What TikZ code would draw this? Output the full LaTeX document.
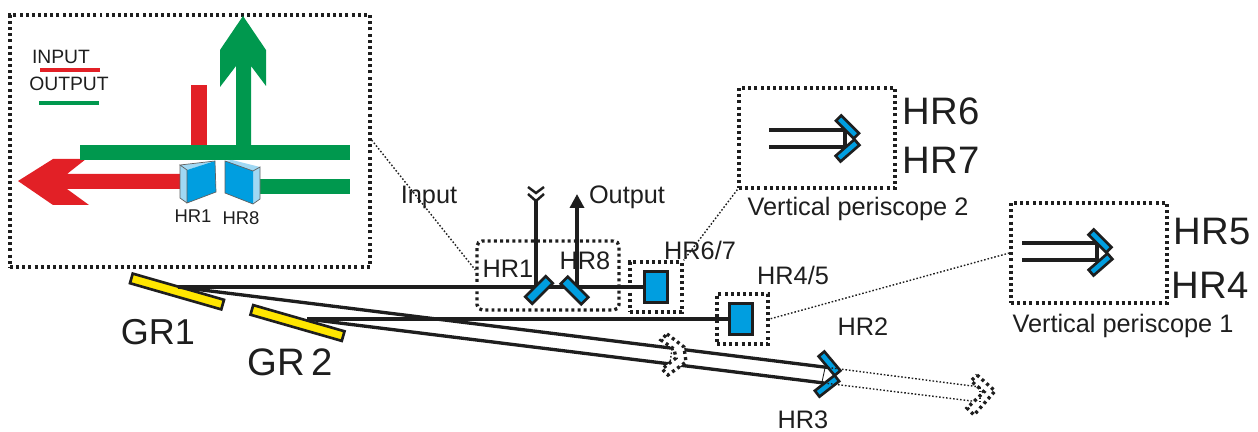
\documentclass[tikz,border=0pt]{standalone}
\usepackage{fontspec}
\setmainfont{Liberation Sans}
\usetikzlibrary{arrows.meta,positioning,calc}
\definecolor{azul}{RGB}{0,158,224}
\definecolor{celeste}{RGB}{160,216,243}
\definecolor{verde}{RGB}{0,152,78}
\definecolor{rojo}{RGB}{226,32,38}
\definecolor{amarillo}{RGB}{255,230,0}
\definecolor{negro}{RGB}{30,30,30}
\tikzset{
  caja/.style={draw=negro, line width=1.9pt, dash pattern=on 1.7pt off 1.8pt, inner sep=0pt},
  rcaja/.style={caja, rounded corners=3pt},
  esp/.style={draw=negro, fill=azul, line width=1.5pt, inner sep=0pt, minimum width=0.58cm, minimum height=0.2cm},
  espp/.style={esp, minimum width=0.5cm, minimum height=0.15cm},
  bloque/.style={draw=negro, fill=azul, line width=1.9pt, inner sep=0pt, minimum width=0.46cm, minimum height=0.62cm},
  red/.style={draw=negro, fill=amarillo, line width=1.5pt, inner sep=0pt, minimum width=1.9cm, minimum height=0.2cm, rotate=-16},
  haz/.style={draw=negro, line width=1.9pt},
  fino/.style={draw=negro, line width=0.8pt, dash pattern=on 0.9pt off 1.1pt},
  chev/.style={draw=negro, fill=white, line width=1.9pt, dash pattern=on 1.7pt off 1.9pt},
  et/.style={text=negro, inner sep=0pt, font=\fontsize{14.4}{16}\selectfont},
  etg/.style={text=negro, inner sep=0pt, font=\fontsize{21.8}{24}\selectfont},
  etp/.style={text=negro, inner sep=0pt, font=\fontsize{10.5}{12}\selectfont},
  cara/.style={draw=negro!70, line width=0.4pt},
}
\begin{document}
\begin{tikzpicture}[x=0.02cm, y=-0.02cm]
  \useasboundingbox (0,0) rectangle (1258,432);
  % boxes
  \node[caja, minimum width=7.2cm, minimum height=5.04cm] (zoombox) at (190,141) {};
  \node[rcaja, minimum width=2.84cm, minimum height=1.38cm] (boxin) at (548,275.5) {};
  \node[caja, minimum width=1.04cm, minimum height=1cm] (box67) at (656,287) {};
  \node[caja, minimum width=1.02cm, minimum height=1cm] (box45) at (742.5,319) {};
  \node[caja, minimum width=3.12cm, minimum height=2cm] (per2) at (817,138) {};
  \node[caja, minimum width=3.12cm, minimum height=2cm] (per1) at (1089,253) {};
  % inset
  \fill[rojo] (191,85) rectangle (207,146);
  \fill[rojo] (18,181) -- (53,159) -- (86,159) -- (67,174) -- (182,174) -- (182,189) -- (67,189) -- (89,205) -- (53,205) -- cycle;
  \fill[verde] (236,146) -- (236,66) -- (220,87) -- (220,50) -- (243,16) -- (266,50) -- (266,86) -- (251,66) -- (251,146) -- cycle;
  \fill[verde] (80,145) rectangle (350,160);
  \fill[verde] (258,179) rectangle (350,194);
  \fill[celeste] (180,165) -- (187,170) -- (187,203) -- (180,198) -- cycle;
  \fill[celeste] (180,165) -- (215,161) -- (187,170) -- cycle;
  \fill[azul] (187,170) -- (215,161) -- (216,192) -- (187,203) -- cycle;
  \draw[cara] (180,165) -- (187,170) -- (187,203) -- (216,192) -- (215,161) -- cycle;
  \draw[cara] (187,203) -- (180,198) -- (180,165);
  \fill[celeste] (253,171) -- (260,167) -- (260,199) -- (253,204) -- cycle;
  \fill[celeste] (225,161) -- (232,160) -- (260,167) -- (253,171) -- cycle;
  \fill[azul] (225,161) -- (253,171) -- (253,204) -- (225,193) -- cycle;
  \draw[cara] (225,161) -- (225,193) -- (253,204) -- (260,199) -- (260,167) -- (253,171) -- cycle;
  \node[etp] (in1) at (193,216) {HR1};
  \node[etp] (in8) at (241,218) {HR8};
  \node[etp, font=\fontsize{11}{13}\selectfont] (tin) at (61,57) {INPUT};
  \node[etp, font=\fontsize{11}{13}\selectfont] (tout) at (69,84) {OUTPUT};
  \draw[rojo, line width=2.2pt] (40,70) -- (100,70);
  \draw[verde, line width=2.2pt] (39,103) -- (99,103);
  % gratings, mirrors
  \node[red] (gr1) at (177,291.5) {};
  \node[red] (gr2) at (297.5,323) {};
  \node[bloque] (m67) at (656,287) {};
  \node[bloque] (m45) at (741,319) {};
  \coordinate (p1) at (536,287);
  \coordinate (p8) at (577,287);
  \coordinate (t1) at (536,199);
  \coordinate (g1) at (178,287);
  \coordinate (g2) at (307,319);
  \coordinate (hr2a) at (828,367.5);
  \coordinate (hr3a) at (824,383);
  \coordinate (lej1) at (980,387);
  \coordinate (lej2) at (980,402);
  \coordinate (tope8) at (577,194);
  \draw[haz] (g1) -- (m67);
  \draw[haz] (g2) -- (m45);
  \draw[haz] (g1) -- (hr2a);
  \draw[haz] (g2) -- (hr3a);
  \draw[haz] (p1) -- (t1);
  \draw[haz, -{Triangle[length=2.8mm,width=2.8mm]}] (p8) -- (tope8);
  \draw[draw=negro, line width=1.4pt] (528,187) -- (536,193) -- (544,187);
  \draw[draw=negro, line width=1.4pt] (528,194) -- (536,201) -- (544,194);
  \node[esp, rotate=45] (m1) at (539,290) {};
  \node[esp, rotate=-45] (m8) at (574.5,290.5) {};
  \node[espp, rotate=-50] (m2) at (829.5,363.5) {};
  \node[espp, rotate=38] (m3) at (827,386) {};
  \draw[fino] (hr2a) -- (lej1);
  \draw[fino] (hr3a) -- (lej2);
  \draw[draw=negro, line width=0.5pt] (825,368) -- (822,382);
  % chevrons
  \draw[chev] (667,334) -- (684,347) -- (686,362) -- (668,375) -- (662,369) -- (676,358) -- (674,349) -- (661,340) -- cycle;
  \draw[chev] (977,375) -- (995,391) -- (974,415) -- (967,408) -- (984,392) -- (971,381) -- cycle;
  \draw[fino] (672,349) -- (670,363);
  \draw[fino] (lej1) -- (lej2);
  % periscopes
  \coordinate (a2) at (769,130);
  \coordinate (b2) at (769,147);
  \coordinate (a1) at (1022,243);
  \coordinate (b1) at (1022,260);
  \draw[haz] (a2) -- ++(76,0) -- ++(0,17) -- (b2);
  \draw[haz] (a1) -- ++(75,0) -- ++(0,17) -- (b1);
  \node[espp, rotate=-45] (m6) at (847.5,127) {};
  \node[espp, rotate=41] (m7) at (847.5,150.5) {};
  \node[espp, rotate=-45] (m5) at (1100,241) {};
  \node[espp, rotate=41] (m4) at (1100.5,264.5) {};
  % leaders
  \draw[fino] (zoombox.east |- 0,140) -- (boxin.west |- 0,270);
  \draw[fino] (per2.south west) -- (box67.north east);
  \draw[fino] (per1.west) -- (box45.east);
  % labels
  \node[et] (tinp) at (429,197) {Input};
  \node[et] (toutp) at (627,197) {Output};
  \node[et] (l1) at (508,269) {HR1};
  \node[et] (l8) at (585,261) {HR8};
  \node[et] (l67) at (700,250) {HR6/7};
  \node[et] (l45) at (793,275) {HR4/5};
  \node[et] (l2) at (863,327) {HR2};
  \node[et] (l3) at (803,420) {HR3};
  \node[et] (tp2) at (858,209) {Vertical periscope 2};
  \node[et] (tp1) at (1123,326) {Vertical periscope 1};
  \node[etg] (l6) at (941,111) {HR6};
  \node[etg] (l7) at (941,160) {HR7};
  \node[etg] (l5) at (1212,232) {HR5};
  \node[etg] (l4) at (1210,285) {HR4};
  \node[etg, font=\fontsize{20.5}{24}\selectfont] (tg1) at (158,332) {GR1};
  \node[etg] (tg2) at (290,362) {GR\,2};
\end{tikzpicture}
\end{document}
